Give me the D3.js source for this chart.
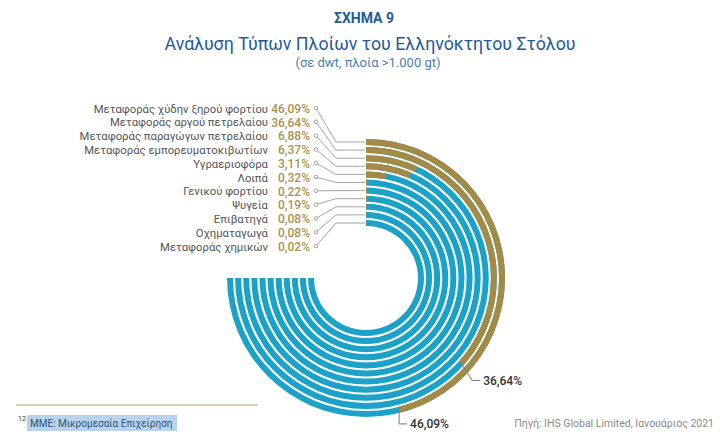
<!DOCTYPE html>
<html><head><meta charset="utf-8">
<script src="https://cdn.jsdelivr.net/npm/d3@7"></script>
<style>
body{margin:0;background:#fff;}
svg{display:block;font-family:Roboto,"Noto Sans",sans-serif;}
</style></head>
<body><svg id="chart" width="720" height="440"></svg>
<script>
const categories = [
  "Μεταφοράς χύδην ξηρού φορτίου",
  "Μεταφοράς αργού πετρελαίου",
  "Μεταφοράς παραγώγων πετρελαίου",
  "Μεταφοράς εμπορευματοκιβωτίων",
  "Υγραεριοφόρα",
  "Λοιπά",
  "Γενικού φορτίου",
  "Ψυγεία",
  "Επιβατηγά",
  "Οχηματαγωγά",
  "Μεταφοράς χημικών"
];
const values = [46.09, 36.64, 6.88, 6.37, 3.11, 0.32, 0.22, 0.19, 0.08, 0.08, 0.02];
const valueLabels = ["46,09%","36,64%","6,88%","6,37%","3,11%","0,32%","0,22%","0,19%","0,08%","0,08%","0,02%"];
const title = "ΣΧΗΜΑ 9";
const subtitle = "Ανάλυση Τύπων Πλοίων του Ελληνόκτητου Στόλου";
const unitNote = "(σε dwt, πλοία >1.000 gt)";
const footnoteNum = "12";
const footnoteText = "ΜΜΕ: Μικρομεσαία Επιχείρηση";
const sourceText = "Πηγή: IHS Global Limited, Ιανουάριος 2021";

const TEAL = "#1ba2c6", GOLD = "#a48b45", BLUE = "#1d5c9a";
const svg = d3.select("#chart");
const cx = 366, cy = 278;

// titles
svg.append("text").attr("x",364).attr("y",23).attr("text-anchor","middle")
  .attr("font-size",14).attr("font-weight",700).attr("fill",BLUE).text(title);
svg.append("text").attr("x",370).attr("y",50).attr("text-anchor","middle")
  .attr("font-size",17.8).attr("fill",BLUE).text(subtitle);
svg.append("text").attr("x",368).attr("y",67).attr("text-anchor","middle")
  .attr("font-size",13).attr("fill","#4d7fae").text(unitNote);

// scales
const angle = d3.scaleLinear().domain([0,100]).range([0, 2*Math.PI]);
const maxAngle = angle(75);
const r = d3.scaleBand().domain(categories).range([139, 52]).paddingInner(0.26);
const bw = r.bandwidth();
const rowY = d3.scalePoint().domain(categories).range([108, 246]);

const g = svg.append("g").attr("transform",`translate(${cx},${cy})`);
const arc = d3.arc();

// background teal ring (full 270°)
g.selectAll("path.bg").data(categories).join("path").attr("class","bg")
  .attr("fill",TEAL)
  .attr("d", c => arc({innerRadius:r(c), outerRadius:r(c)+bw, startAngle:0, endAngle:maxAngle}));
// gold value ring
g.selectAll("path.val").data(categories).join("path").attr("class","val")
  .attr("fill",GOLD)
  .attr("d", (c,i) => arc({innerRadius:r(c), outerRadius:r(c)+bw, startAngle:0, endAngle:angle(values[i])}));

// left labels
const lab = svg.append("g");
lab.selectAll("text.cat").data(categories).join("text").attr("class","cat")
  .attr("x",268).attr("y",c=>rowY(c)+1).attr("dy","0.32em").attr("text-anchor","end")
  .attr("font-size",11.3).attr("fill","#555").text(c=>c);
lab.selectAll("text.pct").data(categories).join("text").attr("class","pct")
  .attr("x",310).attr("y",c=>rowY(c)+1).attr("dy","0.32em").attr("text-anchor","end")
  .attr("font-size",12).attr("font-weight",500).attr("fill","#aa9250").text((c,i)=>valueLabels[i]);

// leader lines
lab.selectAll("polyline").data(categories).join("polyline")
  .attr("fill","none").attr("stroke","#9a9a9a").attr("stroke-width",0.9)
  .attr("points", c => {
    const ry = cy - (r(c)+bw/2);
    return `316,${rowY(c)} 336,${ry} ${cx-1},${ry}`;
  });
lab.selectAll("circle").data(categories).join("circle")
  .attr("cx",316).attr("cy",c=>rowY(c)).attr("r",1.8)
  .attr("fill","#fff").attr("stroke","#9a9a9a").attr("stroke-width",0.9);

// value call-outs for the two largest
const callouts = [{i:0, d1:[0,14], d2:8}, {i:1, d1:[11,17], d2:8}];
callouts.forEach(o => {
  const c = categories[o.i];
  const a = angle(values[o.i]);
  const rr = r(c) + bw/2;
  const x0 = cx + rr*Math.sin(a), y0 = cy - rr*Math.cos(a);
  const x1 = x0 + o.d1[0], y1 = y0 + o.d1[1];
  const x2 = x1 + o.d2;
  svg.append("polyline").attr("fill","none").attr("stroke","#777").attr("stroke-width",1)
    .attr("points",`${x0},${y0} ${x1},${y1} ${x2},${y1}`);
  svg.append("text").attr("x",x2+3).attr("y",y1).attr("dy","0.35em")
    .attr("font-size",12).attr("font-weight",500).attr("fill","#333").text(valueLabels[o.i]);
});

// footnote
svg.append("line").attr("x1",16).attr("x2",258).attr("y1",405).attr("y2",405)
  .attr("stroke","#cfc4a6").attr("stroke-width",1.5);
svg.append("rect").attr("x",27).attr("y",415).attr("width",150).attr("height",16).attr("fill","#b9d3ec");
svg.append("text").attr("x",18).attr("y",421).attr("font-size",7).attr("fill","#333").text(footnoteNum);
svg.append("text").attr("x",30).attr("y",426.5).attr("font-size",10).attr("fill","#2d5278").text(footnoteText);
svg.append("text").attr("x",714).attr("y",426.5).attr("text-anchor","end")
  .attr("font-size",10.5).attr("fill","#8a8a8a").text(sourceText);
</script></body></html>
